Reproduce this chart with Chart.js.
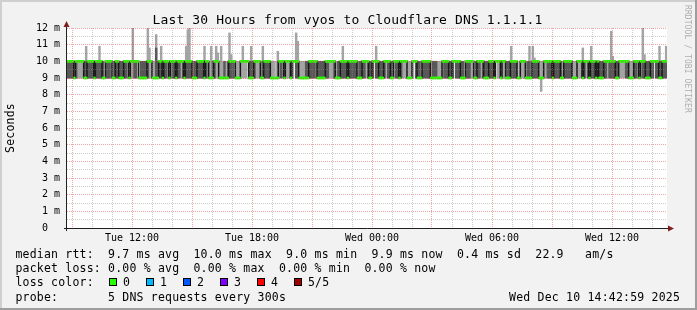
<!DOCTYPE html>
<html><head><meta charset="utf-8">
<script src="https://cdn.jsdelivr.net/npm/chart.js@4/dist/chart.umd.min.js"></script>
<style>html,body{margin:0;padding:0;background:#f2f2f2;overflow:hidden}canvas{display:block}</style>
</head><body>
<canvas id="c" width="697" height="310"></canvas>
<script>
// time axis: hours since Tue 00:00, one sample every 5 minutes
const startHour = 8.75;
const stepHours = 5 / 60;

// median rtt (ms) per 5-minute step
const median = [
10,10,10,10,9,10,10,10,10,10, 9,9,10,10,10,10,9,10,10,10,
10,9,9,10,10,10,10,9,9,10, 10,9,9,9,10,10,10,9,10,10,
10,10,10,9,9,9,9,9,10,10, 10,9,9,9,9,10,10,9,10,10,
10,9,10,10,10,9,10,10,10,10, 9,10,10,10,10,9,9,9,10,10,
10,10,9,10,10,9,9,9,10,10, 10,9,9,9,9,9,9,10,10,10,
10,9,9,9,10,10,10,10,10,9, 9,9,10,10,10,10,9,9,10,10,
10,10,9,9,9,9,9,10,10,10, 9,10,10,10,9,10,10,10,10,9,
9,9,9,9,9,10,10,10,10,10, 9,9,9,9,9,10,10,10,10,10,
10,9,9,9,10,10,10,10,9,10, 10,10,10,10,9,9,9,10,10,10,
10,9,9,10,10,10,10,9,9,9, 10,10,10,10,9,9,10,10,10,9,
10,10,10,10,9,9,9,10,10,10, 9,9,9,10,10,10,10,10,9,9,
9,9,9,9,9,10,10,10,10,9, 9,10,10,10,10,10,9,9,9,10,
10,10,10,10,9,9,10,10,10,10, 9,9,9,10,10,10,9,10,10,10,
9,10,10,9,9,9,10,10,10,10, 9,9,10,10,10,9,9,9,9,10,
10,10,10,9,9,9,10,10,10,10, 10,9,10,10,10,10,9,9,10,10,
10,10,10,9,9,9,10,10,10,9, 10,10,10,9,10,10,10,9,10,9,
9,9,10,10,10,10,10,10,10,9, 9,10,10,10,10,10,10,9,9,9,
10,10,10,9,10,10,10,9,9,9, 10,10,10,10,10,9,9,10,10,10
];

// fastest and slowest of the 5 requests (outer smoke)
const outerLow = [
9,9,9,9,9,9,9,9,9,9, 9,9,9,9,9,9,9,9,9,9,
9,9,9,9,9,9,9,9,9,9, 9,9,9,9,9,9,9,9,9,9,
9,9,10,9,9,9,9,9,9,9, 9,9,9,9,9,9,9,9,9,9,
9,9,9,9,9,9,9,9,10,9, 9,9,9,9,9,9,9,9,9,9,
9,9,9,9,9,9,9,9,9,9, 9,9,9,9,9,9,9,9,9,9,
9,9,9,9,9,9,9,9,10,9, 9,9,9,9,9,9,9,9,9,9,
9,9,9,9,9,9,9,10,9,9, 9,9,9,9,9,9,10,9,9,9,
9,9,9,9,9,9,9,9,9,10, 9,9,9,9,9,9,9,9,9,9,
9,9,9,9,9,9,9,9,9,9, 9,9,9,9,9,9,9,9,9,10,
9,9,9,9,10,9,9,9,9,9, 9,10,9,9,9,9,10,9,9,9,
9,9,9,9,9,9,9,9,10,9, 9,9,9,9,9,9,9,9,9,9,
9,9,9,9,9,9,9,9,9,9, 9,9,10,9,9,9,9,9,9,9,
9,9,9,9,9,9,9,9,10,9, 9,9,9,9,9,9,9,10,9,9,
9,9,10,9,9,9,9,9,9,9, 9,9,9,9,9,9,9,9,9,9,
9,9,9,9,8.2,9,9,9,9,9, 9,9,9,9,9,9,9,9,9,9,
9,9,9,9,9,9,9,9,9,9, 9,10,9,9,9,9,9,9,9,9,
9,9,9,9,10,9,9,9,9,9, 9,9,9,9,9,9,9,9,9,9,
9,9,9,9,9,9,9,9,9,9, 9,9,10,9,9,9,9,9,9,9
];
const outerHigh = [
10,10,10,10,9,10,10,10,10,10, 10,10.9,10,10,10,10,10,10,10,10.9,
10,10,9,10,10,10,10,10,10,10, 10,10,10,10,10,10,10,10,10,12,
10,10,10,9,10,10,10,10,12,10.8, 10,10,10,11.6,10,10,10.9,10,10,10,
10,10,10,10,10,10,10,10,10,10, 10,10.9,11.9,12,10,9,10,10,10,10,
10,10,10.9,10,10,10,10.9,10,10,10.9, 10.5,10,10.9,10,10,9,10,11.7,10.4,10,
10,10,10,10,10,10.9,10,10,10,10, 10.9,10,10,10,10,10,10,10.9,10,10,
10,10,10,10,10,9,10.6,10,10,10, 10,10,10,10,10,10,10,11.7,11.2,10,
10,10,10,10,10,10,10,10,10,10, 10,10,10,10,10,10,10,10,10,10,
10,9,10,10,10,10.9,10,10,10,10, 10,10,10,10,9,10,10,10,10,10,
10,10,10,10,10,10.9,10,10,10,10, 10,10,10,10,10,10,10,10,10,10,
10,10,10,10,10,10,10,10,10,10, 10,10,9,10,10,10,10,10,9,10,
10,10,10,10,10,10,10,10,10,10, 10,10,10,10,10,10,10,10,9,10,
10,10,10,10,10,10,10,10,10,10, 10,10,10,10,10,10,10,10,10,10,
10,10,10,10,10,10,10.9,10,10,10, 9,10,10,10,10,10,10,10.9,9,10.9,
10.2,10,10,10,10,10,10,10,10,10, 10,10,10,10,10,10,10,9,10,10,
10,10,10,10,10,10,10,10,10,10.8, 10,10,10,10,10.9,10,10,10,10,10,
10,10,10,10,10,10,11.8,10.3,10,10, 10,10,10,10,10,10,10,10,10,10,
10,10,10,10,10,12,10.4,10,10,10, 10,10,10,10,10,10.9,10,10,10,10.9
];

// 2nd and 4th of the 5 requests (inner smoke)
const innerLow = [
9,9,9,9,9,9,10,10,10,10, 9,9,9,9,9,9,9,9,9,9,
9,9,9,9,9,9,10,9,9,9, 9,9,9,9,9,9,10,9,10,10,
9,9,10,9,9,9,9,9,9,10, 10,9,9,9,9,9,9,9,9,9,
10,9,10,9,9,9,9,9,10,9, 9,9,9,9,9,9,9,9,9,9,
9,9,9,9,10,9,9,9,9,10, 10,9,9,9,9,9,9,9,9,9,
10,9,9,9,10,10,10,10,10,9, 9,9,9,10,10,10,9,9,9,9,
9,9,9,9,9,9,9,10,9,10, 9,10,10,10,9,10,10,9,9,9,
9,9,9,9,9,9,9,9,9,10, 9,9,9,9,9,9,9,10,10,10,
9,9,9,9,9,9,9,9,9,9, 9,9,9,9,9,9,9,9,9,10,
9,9,9,9,10,9,9,9,9,9, 9,10,9,9,9,9,10,9,9,9,
9,10,10,10,9,9,9,10,10,9, 9,9,9,9,9,9,9,9,9,9,
9,9,9,9,9,10,9,9,9,9, 9,9,10,9,9,9,9,9,9,9,
9,9,10,10,9,9,9,9,10,9, 9,9,9,9,9,9,9,10,10,10,
9,10,10,9,9,9,9,9,9,9, 9,9,10,10,10,9,9,9,9,9,
9,9,9,9,9,9,10,10,9,9, 9,9,9,9,9,9,9,9,9,9,
9,9,9,9,9,9,10,10,10,9, 9,10,9,9,9,9,9,9,9,9,
9,9,9,9,10,9,9,9,9,9, 9,10,10,10,10,9,9,9,9,9,
9,9,10,9,10,9,9,9,9,9, 9,9,10,9,9,9,9,9,9,9
];
const innerHigh = [
10,10,10,10,9,10,10,10,10,10, 10,10,10,10,10,10,10,10,10,10,
10,10,9,10,10,10,10,9,10,10, 10,10,10,10,10,10,10,9,10,10,
10,10,10,9,10,10,10,10,10,10, 10,9,9,10.8,10,10,10,10,10,10,
10,9,10,10,10,10,10,10,10,10, 10,10,10,10,10,9,10,10,10,10,
10,10,10,10,10,9,9,10,10,10, 10,9,9,9,10,9,10,10,10,10,
10,9,9,9,10,10,10,10,10,10, 10,10,10,10,10,10,9,10,10,10,
10,10,9,9,9,9,10,10,10,10, 9,10,10,10,9,10,10,10,10,9,
9,9,9,10,10,10,10,10,10,10, 10,10,10,10,10,10,10,10,10,10,
10,9,10,10,10,10,10,10,10,10, 10,10,10,10,9,10,10,10,10,10,
10,10,10,10,10,10,10,10,10,10, 10,10,10,10,10,10,10,10,10,10,
10,10,10,10,9,9,9,10,10,10, 10,10,9,10,10,10,10,10,9,10,
10,10,9,9,9,10,10,10,10,10, 10,10,10,10,10,10,10,10,9,10,
10,10,10,10,9,10,10,10,10,10, 10,10,10,10,10,10,10,10,10,10,
9,10,10,10,10,10,10,10,10,10, 9,9,10,10,10,9,10,10,9,10,
10,10,10,9,9,9,10,10,10,10, 10,10,10,10,10,10,10,9,10,10,
10,10,10,9,9,9,10,10,10,10, 10,10,10,10,10,10,10,10,10,10,
10,10,10,10,10,10,10,10,10,10, 10,10,10,10,10,10,10,9,9,9,
10,10,10,9,10,10,10,10,10,10, 10,10,10,10,10,10,10,10,10,10
];

const xTickHours = [12, 18, 24, 30, 36];
const xTickLabels = ['Tue 12:00', 'Tue 18:00', 'Wed 00:00', 'Wed 06:00', 'Wed 12:00'];
const yTickValues = [0,1,2,3,4,5,6,7,8,9,10,11,12];
const yTickLabels = ['0  ','1 m','2 m','3 m','4 m','5 m','6 m','7 m','8 m','9 m','10 m','11 m','12 m'];
const lossColors = ['#26ff00', '#00b8ff', '#0059ff', '#7e00ff', '#ff0000', '#a10000'];
const lossLabels = ['0', '1', '2', '3', '4', '5/5'];

const titleText = 'Last 30 Hours from vyos to Cloudflare DNS 1.1.1.1';
const legendLine1 = 'median rtt:  9.7 ms avg  10.0 ms max  9.0 ms min  9.9 ms now  0.4 ms sd  22.9   am/s';
const legendLine2 = 'packet loss: 0.00 % avg  0.00 % max  0.00 % min  0.00 % now';
const legendLine3 = 'loss color:';
const legendLine4 = 'probe:       5 DNS requests every 300s';
const dateText = 'Wed Dec 10 14:42:59 2025';
const yTitle = 'Seconds';
const watermark = 'RRDTOOL / TOBI OETIKER';

const hourOf = i => startHour + (i + 0.5) * stepHours;
const medBar = median.map((m, i) => ({x: hourOf(i), y: [m - 0.055, m + 0.055]}));
const medLine = median.map((m, i) => ({x: hourOf(i), y: m}));
const outerBar = outerLow.map((v, i) => ({x: hourOf(i), y: [v, outerHigh[i]]}));
const innerBar = innerLow.map((v, i) => ({x: hourOf(i), y: [v, innerHigh[i]]}));

const MONO = '"DejaVu Sans Mono", monospace';
function mono(ctx, s, x, y, c) {
  for (let k = 0; k < s.length; k++) ctx.fillText(s[k], x + k * c, y);
}

const majorGrid = 'rgba(222,79,79,0.5)';
const minorGrid = 'rgba(143,143,143,0.45)';

const framePlugin = {
  id: 'frame',
  beforeDraw(chart) {
    const ctx = chart.ctx, a = chart.chartArea;
    ctx.save();
    ctx.fillStyle = '#f2f2f2'; ctx.fillRect(0, 0, 697, 310);
    ctx.fillStyle = '#cfcfcf'; ctx.fillRect(0, 0, 697, 2); ctx.fillRect(0, 0, 2, 310);
    ctx.fillStyle = '#9e9e9e'; ctx.fillRect(0, 308, 697, 2); ctx.fillRect(695, 0, 2, 310);
    ctx.fillStyle = '#ffffff'; ctx.fillRect(a.left, a.top, a.right - a.left, a.bottom - a.top);
    ctx.restore();
  },
  afterDraw(chart) {
    const ctx = chart.ctx, a = chart.chartArea;
    ctx.save();
    ctx.strokeStyle = '#1f1f1f'; ctx.lineWidth = 1;
    ctx.beginPath(); ctx.moveTo(a.left - 3, a.bottom + 0.5); ctx.lineTo(a.right + 4, a.bottom + 0.5); ctx.stroke();
    ctx.beginPath(); ctx.moveTo(a.left - 0.5, a.bottom + 3); ctx.lineTo(a.left - 0.5, a.top - 4); ctx.stroke();
    ctx.fillStyle = '#801f1f';
    ctx.beginPath(); ctx.moveTo(a.right + 1, a.bottom - 2.5); ctx.lineTo(a.right + 7, a.bottom + 0.5); ctx.lineTo(a.right + 1, a.bottom + 3.5); ctx.closePath(); ctx.fill();
    ctx.beginPath(); ctx.moveTo(a.left - 3.5, a.top - 1); ctx.lineTo(a.left - 0.5, a.top - 7); ctx.lineTo(a.left + 2.5, a.top - 1); ctx.closePath(); ctx.fill();

    ctx.fillStyle = '#000';
    ctx.textAlign = 'left'; ctx.textBaseline = 'alphabetic';
    ctx.font = '13px ' + MONO;
    mono(ctx, titleText, 152.5, 24, 7.96);

    ctx.font = '11.5px ' + MONO;
    const c = 7.12, x0 = 15.5;
    mono(ctx, legendLine1, x0, 257.5, c);
    mono(ctx, legendLine2, x0, 272, c);
    mono(ctx, legendLine3, x0, 286, c);
    mono(ctx, legendLine4, x0, 300.5, c);
    mono(ctx, dateText, 680 - dateText.length * c, 300.5, c);
    for (let k = 0; k < lossColors.length; k++) {
      const bx = 109 + k * 37;
      ctx.fillStyle = lossColors[k];
      ctx.fillRect(bx, 278, 8, 8);
      ctx.strokeStyle = '#000'; ctx.lineWidth = 1;
      ctx.strokeRect(bx + 0.5, 278.5, 7, 7);
      ctx.fillStyle = '#000';
      mono(ctx, lossLabels[k], bx + 14, 286, c);
    }

    ctx.save();
    ctx.translate(14, (a.top + a.bottom) / 2 + yTitle.length * c / 2);
    ctx.rotate(-Math.PI / 2);
    mono(ctx, yTitle, 0, 0, c);
    ctx.restore();

    ctx.save();
    ctx.fillStyle = 'rgba(0,0,0,0.3)';
    ctx.font = '8px ' + MONO;
    ctx.translate(685, 5);
    ctx.rotate(Math.PI / 2);
    mono(ctx, watermark, 0, 0, 4.9);
    ctx.restore();
    ctx.restore();
  }
};

new Chart(document.getElementById('c'), {
  type: 'bar',
  data: {
    datasets: [
      {type: 'bar', data: medBar, backgroundColor: '#26ff00', order: 0},
      {type: 'line', data: medLine, stepped: 'middle', borderColor: '#181818', borderWidth: 1.5, pointRadius: 0, fill: false, order: 1},
      {type: 'bar', data: innerBar, backgroundColor: '#585858', order: 2},
      {type: 'bar', data: outerBar, backgroundColor: '#a4a4a4', order: 3}
    ]
  },
  options: {
    responsive: false, animation: false, events: [], devicePixelRatio: 1,
    layout: {padding: {left: 0, top: 28, right: 30, bottom: 62}},
    plugins: {legend: {display: false}, tooltip: {enabled: false}, title: {display: false}},
    datasets: {bar: {grouped: false, categoryPercentage: 1, barPercentage: 1, inflateAmount: 0.4, borderWidth: 0}},
    scales: {
      x: {
        type: 'linear', min: startHour, max: startHour + 30, offset: false,
        afterFit(s) { s.height = 20; },
        afterBuildTicks(s) {
          const t = [];
          for (let h = Math.ceil(startHour); h <= startHour + 30; h++) t.push({value: h});
          s.ticks = t;
        },
        grid: {offset: false, drawTicks: false, z: 1, lineWidth: 1,
          color: ctx => { const v = ctx.tick.value; if (!Number.isInteger(v)) return 'rgba(0,0,0,0)'; return v % 3 === 0 ? majorGrid : minorGrid; }},
        border: {display: false, dash: [1, 1]},
        ticks: {autoSkip: false, maxRotation: 0, minRotation: 0, padding: 4, color: '#000',
          font: {family: MONO, size: 10},
          callback: v => { const k = xTickHours.indexOf(v); return k >= 0 ? xTickLabels[k] : ''; }}
      },
      y: {
        type: 'linear', min: 0, max: 12,
        afterFit(s) { s.width = 67; },
        grid: {drawTicks: false, z: 1, lineWidth: 1,
          color: ctx => Number.isInteger(ctx.tick.value) ? majorGrid : minorGrid},
        border: {display: false, dash: [1, 1]},
        ticks: {stepSize: 0.5, autoSkip: false, padding: 7, color: '#000',
          font: {family: MONO, size: 10},
          callback: v => { const k = yTickValues.indexOf(v); return k >= 0 ? yTickLabels[k] : ''; }}
      }
    }
  },
  plugins: [framePlugin]
});
</script>
</body></html>
